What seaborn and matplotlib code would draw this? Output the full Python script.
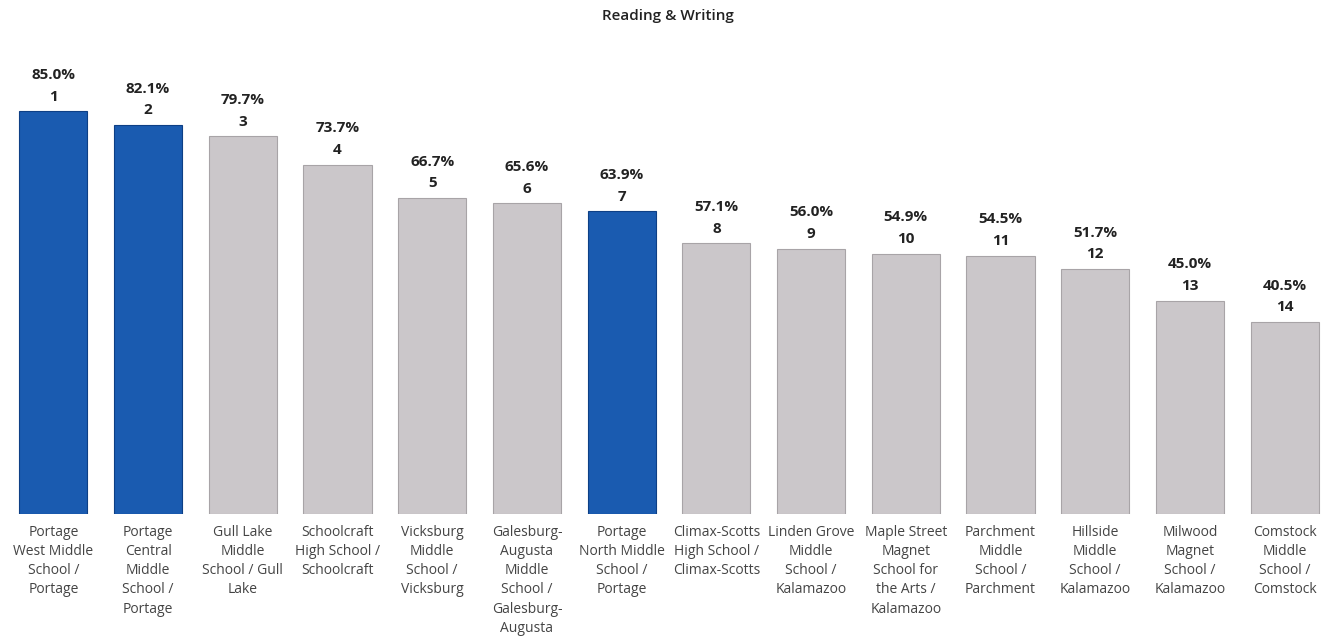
import numpy as np
import pandas as pd
import seaborn as sns
import matplotlib.pyplot as plt

schools = [
    "Portage\nWest Middle\nSchool /\nPortage",
    "Portage\nCentral\nMiddle\nSchool /\nPortage",
    "Gull Lake\nMiddle\nSchool / Gull\nLake",
    "Schoolcraft\nHigh School /\nSchoolcraft",
    "Vicksburg\nMiddle\nSchool /\nVicksburg",
    "Galesburg-\nAugusta\nMiddle\nSchool /\nGalesburg-\nAugusta",
    "Portage\nNorth Middle\nSchool /\nPortage",
    "Climax-Scotts\nHigh School /\nClimax-Scotts",
    "Linden Grove\nMiddle\nSchool /\nKalamazoo",
    "Maple Street\nMagnet\nSchool for\nthe Arts /\nKalamazoo",
    "Parchment\nMiddle\nSchool /\nParchment",
    "Hillside\nMiddle\nSchool /\nKalamazoo",
    "Milwood\nMagnet\nSchool /\nKalamazoo",
    "Comstock\nMiddle\nSchool /\nComstock",
]
pct = [85.0, 82.1, 79.7, 73.7, 66.7, 65.6, 63.9, 57.1, 56.0, 54.9, 54.5, 51.7, 45.0, 40.5]
rank = list(range(1, 15))
portage = [True, True, False, False, False, False, True, False, False, False, False, False, False, False]

df = pd.DataFrame({"school": schools, "pct": pct, "rank": rank,
                   "group": ["Portage" if p else "Other" for p in portage]})

sns.set_style("white")
plt.rcParams['font.family'] = ['Open Sans', 'DejaVu Sans']

fig = plt.figure(figsize=(13.36, 6.39), dpi=100)
ax = fig.add_axes([0.0045, 0.196, 0.9925, 0.741])

blue = "#1a5bb0"
grey = "#cbc7ca"
sns.barplot(data=df, x="school", y="pct", hue="group",
            palette={"Portage": blue, "Other": grey}, saturation=1,
            dodge=False, width=0.72, legend=False, ax=ax, linewidth=0.8)

# darker outline per bar colour
for p in ax.patches:
    if p.get_height() > 0:
        fc = p.get_facecolor()
        p.set_edgecolor("#0d3f85" if fc[2] > fc[0] + 0.2 else "#a8a4a7")

for i, (v, r) in enumerate(zip(pct, rank)):
    ax.text(i, v + 1.6, str(r), ha="center", va="bottom",
            fontsize=11, fontweight="bold", color="#222222")
    ax.text(i, v + 6.2, f"{v:.1f}%", ha="center", va="bottom",
            fontsize=11, fontweight="bold", color="#222222")

ax.set_ylim(0, 100)
ax.set_xlim(-0.5, len(schools) - 0.5)
ax.set_yticks([])
ax.set_xlabel("")
ax.set_ylabel("")
ax.tick_params(axis="x", length=0, pad=8, labelsize=10, labelcolor="#444444")
for lbl in ax.get_xticklabels():
    lbl.set_linespacing(1.38)
sns.despine(ax=ax, left=True, bottom=True)

fig.text(0.5, 0.975, "Reading & Writing", ha="center", va="center",
         fontsize=11, fontweight="semibold", color="#222222")

fig.savefig("out.png", dpi=100)
